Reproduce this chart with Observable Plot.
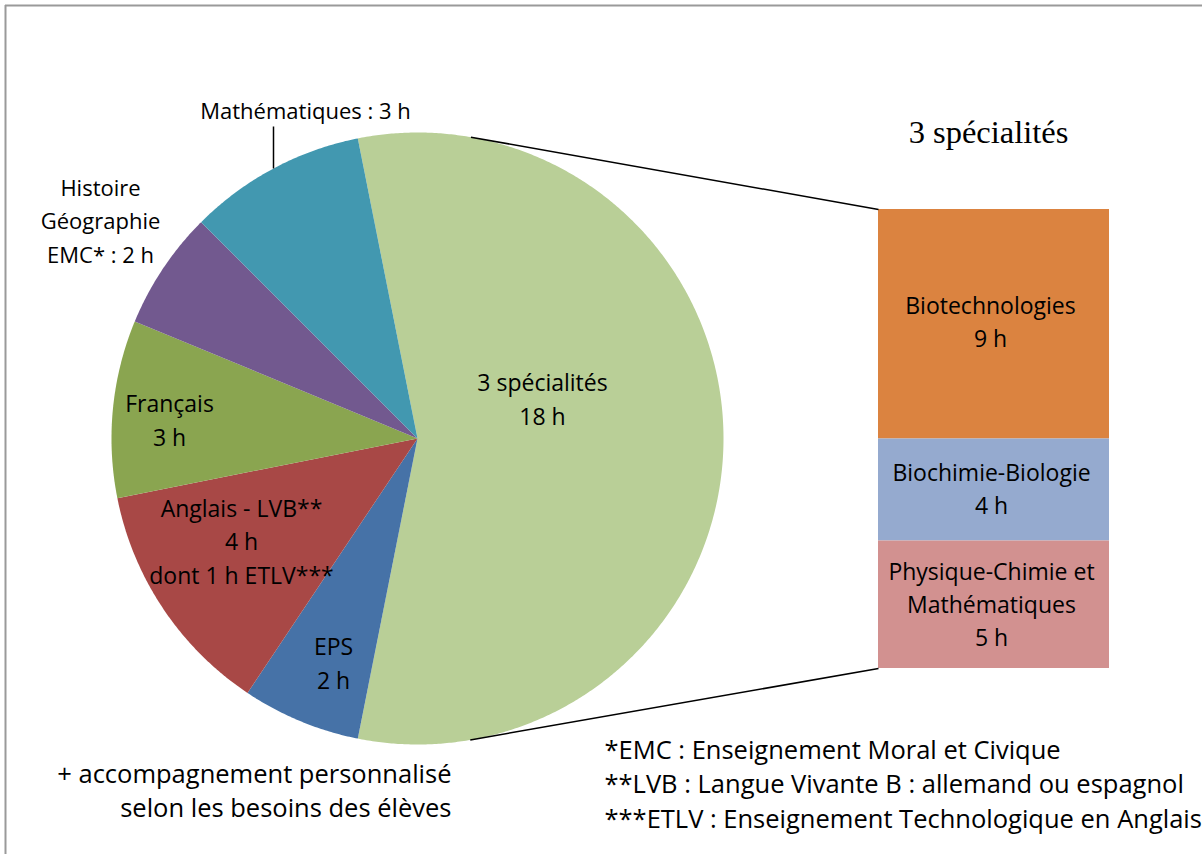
<!DOCTYPE html>
<html><head><meta charset="utf-8">
<script src="https://cdn.jsdelivr.net/npm/d3@7"></script>
<script src="https://cdn.jsdelivr.net/npm/@observablehq/plot@0.6"></script>
<style>html,body{margin:0;padding:0;background:#fff;overflow:hidden}</style>
</head><body><div id="chart"></div>
<script>
// ---------- DATA ----------
const pieSubjects = ["3 spécialités", "EPS", "Anglais - LVB**", "Français", "Histoire Géographie EMC*", "Mathématiques"];
const pieHours = [18, 2, 4, 3, 2, 3];
const pieLabelText = ["3 spécialités\n18 h", "EPS\n2 h", "Anglais - LVB**\n4 h\ndont 1 h ETLV***", "Français\n3 h", "Histoire\nGéographie\nEMC* : 2 h", "Mathématiques : 3 h"];
const pieColors = ["#B9CF97", "#4672A7", "#A84846", "#8AA550", "#72598F", "#4298B0"];

const barSubjects = ["Biotechnologies", "Biochimie-Biologie", "Physique-Chimie et Mathématiques"];
const barHours = [9, 4, 5];
const barLabelText = ["Biotechnologies\n9 h", "Biochimie-Biologie\n4 h", "Physique-Chimie et\nMathématiques\n5 h"];
const barColors = ["#DB8340", "#95AACF", "#D29190"];

const barTitle = "3 spécialités";
const noteLeft = "+ accompagnement personnalisé\nselon les besoins des élèves";
const footnotes = "*EMC : Enseignement Moral et Civique\n**LVB : Langue Vivante B : allemand ou espagnol\n***ETLV : Enseignement Technologique en Anglais";

// ---------- LAYOUT ----------
const W = 1202, H = 854;
const cx = 417, cy = 438, R = 306;
const barBox = {x1: 878, x2: 1109, top: 209, bottom: 668};
const pieLabelPos = [
  {x: 542, y: 424, fs: 23},
  {x: 333, y: 688, fs: 23},
  {x: 241, y: 583, fs: 23},
  {x: 169, y: 445, fs: 23},
  {x: 100, y: 262, fs: 22},
  {x: 305, y: 118, fs: 22}
];
const barLabelPos = [{x: 990, y: 346}, {x: 991, y: 513}, {x: 991, y: 645}];
const leaderX = 273, leaderTop = 126;
const FONT = "'Open Sans', sans-serif";
const FS = 23;

// ---------- GEOMETRY FROM DATA ----------
const total = d3.sum(pieHours);
const toRad = Math.PI / 180;
// split slice centred facing the bar (90° clockwise from 12 o'clock)
let a = Math.PI / 2 - (pieHours[0] / total) * Math.PI;
const slicePts = [];
pieHours.forEach((h, i) => {
  const a0 = a, a1 = a + (h / total) * 2 * Math.PI;
  a = a1;
  slicePts.push({i, x: cx, y: cy});
  const n = Math.max(2, Math.ceil((a1 - a0) / (0.4 * toRad)));
  for (let k = 0; k <= n; k++) {
    const t = a0 + (a1 - a0) * k / n;
    slicePts.push({i, x: cx + R * Math.sin(t), y: cy - R * Math.cos(t)});
  }
  slicePts.push({i, x: cx, y: cy});
});

const barTotal = d3.sum(barHours);
const k = (barBox.bottom - barBox.top) / barTotal;
let cum = 0;
const barRects = barHours.map((h, j) => {
  const r = {j, x1: barBox.x1, x2: barBox.x2, y1: barBox.top + cum * k, y2: barBox.top + (cum + h) * k};
  cum += h;
  return r;
});

// tangent lines from bar corners to the pie
function tangent(px, py, upper) {
  const vx = px - cx, vy = py - cy;
  const d = Math.hypot(vx, vy);
  const al = Math.atan2(vy, vx);
  const b = Math.acos(R / d);
  const t = upper ? al - b : al + b;
  return {x1: cx + R * Math.cos(t), y1: cy + R * Math.sin(t), x2: px, y2: py};
}
const connectors = [tangent(barBox.x1, barBox.top, true), tangent(barBox.x1, barBox.bottom, false)];
const leader = [{x1: leaderX, y1: leaderTop, x2: leaderX, y2: cy - Math.sqrt(R * R - (leaderX - cx) ** 2)}];

const pieLabels = pieLabelText.map((t, i) => ({t, ...pieLabelPos[i]}));
const barLabels = barLabelText.map((t, j) => ({t, ...barLabelPos[j]}));

const plot = Plot.plot({
  width: W, height: H,
  margin: 0,
  x: {domain: [0, W], range: [0, W], axis: null},
  y: {domain: [0, H], range: [0, H], axis: null},
  style: {fontFamily: FONT, background: "#fff"},
  marks: [
    // outer border of the chart area
    Plot.ruleY([5], {x1: 5, x2: W + 5, stroke: "#9a9a9a", strokeWidth: 2}),
    Plot.ruleX([5], {y1: 5, y2: H + 5, stroke: "#9a9a9a", strokeWidth: 2}),
    // pie slices
    Plot.line(slicePts, {x: "x", y: "y", z: "i", fill: d => pieColors[d.i], stroke: null, curve: "linear"}),
    // bar of the split slice
    Plot.rect(barRects, {x1: "x1", x2: "x2", y1: "y1", y2: "y2", fill: d => barColors[d.j]}),
    // connectors and leader
    Plot.link(connectors, {x1: "x1", y1: "y1", x2: "x2", y2: "y2", stroke: "#000", strokeWidth: 1.5}),
    Plot.link(leader, {x1: "x1", y1: "y1", x2: "x2", y2: "y2", stroke: "#000", strokeWidth: 1.5}),
    // labels
    ...pieLabels.map(d => Plot.text([d], {x: "x", y: "y", text: "t", textAnchor: "middle", lineAnchor: "bottom", lineHeight: 33.5 / d.fs, fontSize: d.fs, fill: "#000"})),
    Plot.text(barLabels, {x: "x", y: "y", text: "t", textAnchor: "middle", lineAnchor: "bottom", lineHeight: 33 / FS, fontSize: FS, fill: "#000"}),
    Plot.text([barTitle], {x: 988, y: 142, text: d => d, textAnchor: "middle", lineAnchor: "bottom", fontSize: 32.5, fontFamily: "'Liberation Serif', 'Times New Roman', serif", fill: "#000"}),
    Plot.text([noteLeft], {x: 451, y: 816, text: d => d, textAnchor: "end", lineAnchor: "bottom", lineHeight: 34 / 25.5, fontSize: 25.5, fill: "#000"}),
    Plot.text([footnotes], {x: 604, y: 827, text: d => d, textAnchor: "start", lineAnchor: "bottom", lineHeight: 34.5 / 25.5, fontSize: 25.5, fill: "#000"})
  ]
});
document.getElementById("chart").appendChild(plot);
</script>
</body></html>
